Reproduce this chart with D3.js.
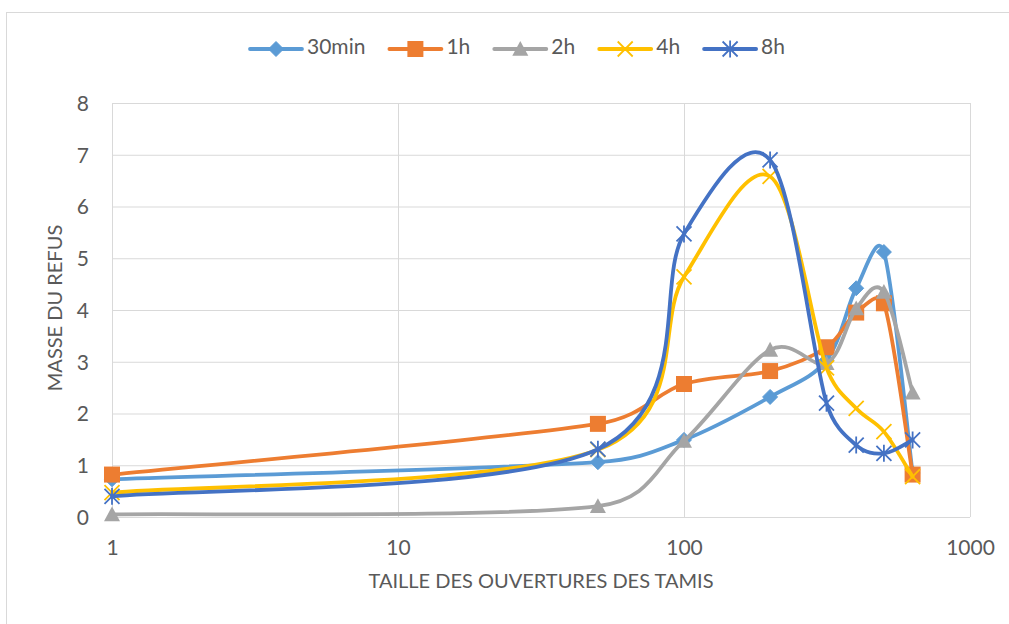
<!DOCTYPE html>
<html>
<head>
<meta charset="utf-8">
<script src="https://cdn.jsdelivr.net/npm/d3@7"></script>
<style>
  html, body { margin: 0; padding: 0; background: #ffffff; }
  svg { display: block; }
  text { font-family: Lato, "Open Sans", "Liberation Sans", sans-serif; fill: #595959; }
</style>
</head>
<body>
<svg id="chart" width="1009" height="624"></svg>
<script>
// ---- data ----
const sizes = [1, 50, 100, 200, 315, 400, 500, 630];
const s30min = [0.73, 1.06, 1.49, 2.32, 3.03, 4.42, 5.12, 0.85];
const s1h    = [0.82, 1.80, 2.57, 2.82, 3.28, 3.95, 4.13, 0.82];
const s2h    = [0.05, 0.21, 1.47, 3.23, 2.97, 4.03, 4.35, 2.40];
const s4h    = [0.47, 1.30, 4.64, 6.58, 2.88, 2.10, 1.65, 0.78];
const s8h    = [0.40, 1.31, 5.47, 6.90, 2.20, 1.39, 1.23, 1.49];
const seriesNames = ["30min", "1h", "2h", "4h", "8h"];
const seriesValues = [s30min, s1h, s2h, s4h, s8h];
const xTicks = [1, 10, 100, 1000];
const yTicks = [0, 1, 2, 3, 4, 5, 6, 7, 8];
const xTitle = "TAILLE DES OUVERTURES DES TAMIS";
const yTitle = "MASSE DU REFUS";

// ---- styles ----
const colors = ["#5B9BD5", "#ED7D31", "#A5A5A5", "#FFC000", "#4472C4"];
const markers = ["diamond", "square", "triangle", "x", "star"];

const svg = d3.select("#chart");
const plot = { left: 112, right: 970, top: 103, bottom: 517 };

// outer border
svg.append("rect").attr("x", 6.5).attr("y", 12.5)
  .attr("width", 1100).attr("height", 700)
  .attr("fill", "none").attr("stroke", "#d9d9d9").attr("stroke-width", 1);

const x = d3.scaleLog().domain([1, 1000]).range([plot.left, plot.right]);
const y = d3.scaleLinear().domain([0, 8]).range([plot.bottom, plot.top]);

// y axis + horizontal gridlines
const yAxis = svg.append("g").attr("transform", `translate(${plot.left},0)`)
  .call(d3.axisLeft(y).tickValues(yTicks).tickFormat(d3.format("d"))
    .tickSize(-(plot.right - plot.left)).tickPadding(23));
yAxis.select(".domain").remove();
yAxis.selectAll("line").attr("stroke", "#d9d9d9").attr("stroke-width", 1);
yAxis.selectAll("text").attr("font-size", 21).attr("fill", "#595959")
  .attr("font-family", "Lato, 'Open Sans', sans-serif").attr("dy", "0.35em");

// x axis + vertical gridlines
const xAxis = svg.append("g").attr("transform", `translate(0,${plot.bottom})`)
  .call(d3.axisBottom(x).tickValues(xTicks).tickFormat(d3.format("d"))
    .tickSize(-(plot.bottom - plot.top)).tickPadding(0));
xAxis.select(".domain").remove();
xAxis.selectAll("line").attr("stroke", "#d9d9d9").attr("stroke-width", 1);
xAxis.selectAll("text").attr("font-size", 21).attr("fill", "#595959")
  .attr("font-family", "Lato, 'Open Sans', sans-serif")
  .attr("y", 31).attr("dy", "0.35em");

// axis titles
svg.append("text").attr("x", (plot.left + plot.right) / 2).attr("y", 583)
  .attr("text-anchor", "middle").attr("dominant-baseline", "middle")
  .attr("font-size", 20).text(xTitle);
svg.append("text").attr("transform", "translate(57,308) rotate(-90)")
  .attr("text-anchor", "middle").attr("dominant-baseline", "middle")
  .attr("font-size", 20).text(yTitle);

// marker drawing
function drawMarker(g, type, color, cx, cy) {
  if (type === "diamond") {
    const r = 7.5;
    g.append("path").attr("d", `M${cx},${cy - r}L${cx + r},${cy}L${cx},${cy + r}L${cx - r},${cy}Z`)
      .attr("fill", color).attr("stroke", color).attr("stroke-width", 1);
  } else if (type === "square") {
    const r = 8;
    g.append("rect").attr("x", cx - r).attr("y", cy - r).attr("width", 2 * r).attr("height", 2 * r)
      .attr("fill", color);
  } else if (type === "triangle") {
    const r = 8;
    g.append("path").attr("d", `M${cx},${cy - r}L${cx + r},${cy + r * 0.85}L${cx - r},${cy + r * 0.85}Z`)
      .attr("fill", color);
  } else if (type === "x") {
    const r = 7.5;
    g.append("path").attr("d", `M${cx - r},${cy - r}L${cx + r},${cy + r}M${cx - r},${cy + r}L${cx + r},${cy - r}`)
      .attr("stroke", color).attr("stroke-width", 1.8).attr("fill", "none");
  } else if (type === "star") {
    const r = 7.5;
    g.append("path").attr("d", `M${cx - r},${cy - r}L${cx + r},${cy + r}M${cx - r},${cy + r}L${cx + r},${cy - r}M${cx},${cy - r - 1}L${cx},${cy + r + 1}`)
      .attr("stroke", color).attr("stroke-width", 1.8).attr("fill", "none");
  }
}

// spreadsheet-style smoothing: Catmull-Rom arms (1/6) capped at half the segment length
function smoothPath(pts) {
  const p = d3.path();
  const dist = (a, b) => Math.hypot(b[0] - a[0], b[1] - a[1]);
  p.moveTo(pts[0][0], pts[0][1]);
  for (let i = 0; i < pts.length - 1; i++) {
    const p0 = pts[i - 1] || pts[i];
    const p1 = pts[i];
    const p2 = pts[i + 1];
    const p3 = pts[i + 2] || pts[i + 1];
    const d12 = dist(p1, p2), d02 = dist(p0, p2), d13 = dist(p1, p3);
    let f1 = 1 / 6, f2 = 1 / 6;
    if (d02 / 6 > d12 / 2 && d02 > 0) f1 = d12 / (2 * d02);
    if (d13 / 6 > d12 / 2 && d13 > 0) f2 = d12 / (2 * d13);
    const c1 = [p1[0] + f1 * (p2[0] - p0[0]), p1[1] + f1 * (p2[1] - p0[1])];
    const c2 = [p2[0] - f2 * (p3[0] - p1[0]), p2[1] - f2 * (p3[1] - p1[1])];
    p.bezierCurveTo(c1[0], c1[1], c2[0], c2[1], p2[0], p2[1]);
  }
  return p.toString();
}

seriesValues.forEach((vals, i) => {
  const g = svg.append("g");
  const pts = sizes.map((s, k) => [x(s), y(vals[k])]);
  g.append("path").attr("d", smoothPath(pts))
    .attr("fill", "none").attr("stroke", colors[i]).attr("stroke-width", 3.8)
    .attr("stroke-linecap", "round").attr("stroke-linejoin", "round");
  pts.forEach(p => drawMarker(g, markers[i], colors[i], p[0], p[1]));
});

// legend
const legend = svg.append("g");
let lx = 250;
const ly = 49;
seriesNames.forEach((name, i) => {
  const g = legend.append("g");
  g.append("line").attr("x1", lx).attr("x2", lx + 52).attr("y1", ly).attr("y2", ly)
    .attr("stroke", colors[i]).attr("stroke-width", 3.8).attr("stroke-linecap", "round");
  drawMarker(g, markers[i], colors[i], lx + 26, ly);
  const t = g.append("text").attr("x", lx + 57).attr("y", ly).attr("dominant-baseline", "middle")
    .attr("font-size", 21).text(name);
  const w = t.node().getComputedTextLength();
  lx = lx + 57 + w + 24;
});
</script>
</body>
</html>
